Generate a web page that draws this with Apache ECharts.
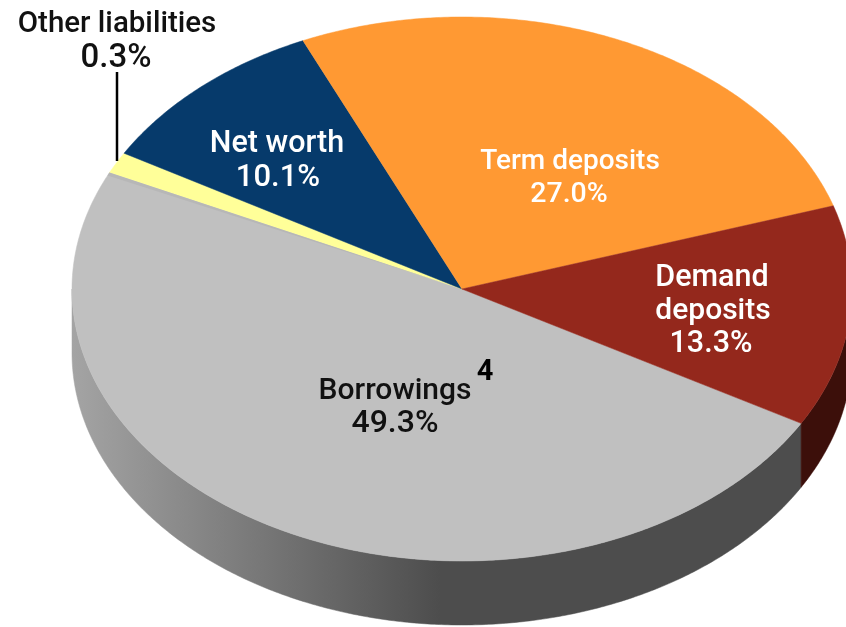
<!DOCTYPE html>
<html><head><meta charset="utf-8">
<style>html,body{margin:0;padding:0;background:#fff}#c{width:846px;height:627px}</style>
<script src="https://cdn.jsdelivr.net/npm/echarts@6/dist/echarts.min.js"></script>
</head><body><div id="c"></div>
<script>
const categories = ['Borrowings', 'Other liabilities', 'Net worth', 'Term deposits', 'Demand deposits'];
const shares = [49.3, 0.3, 10.1, 27.0, 13.3];
const topColors = ['#c0c0c0', '#ffff99', '#063a6b', '#ff9933', '#94281c'];
const sideColors = [null, '#b0b090', '#032040', '#a05f1f', '#3c0f0a'];
const labelLines = [['Borrowings', '49.3%'], ['Other liabilities', '0.3%'], ['Net worth', '10.1%'], ['Term deposits', '27.0%'], ['Demand', 'deposits', '13.3%']];
const labelColors = ['#111', '#111', '#fff', '#fff', '#fff'];

const CX = 462, CY = 289, RX = 390, RY = 272, DEPTH = 64;
const START = 29.6, MIN_ANGLE = 4.6;
const labelAt = [[[395, 391], [395, 424]], [[117, 25], [116, 59]], [[277, 144], [278, 178]], [[570, 162], [569, 195]], [[712, 278], [713, 311], [711, 344]]];
const labelSize = [[30, 32], [29.5, 33], [30.5, 31], [28, 28.5], [30.5, 30, 30.5]];

const small = shares.map(v => v / 100 * 360 < MIN_ANGLE);
const rest = shares.reduce((s, v, i) => s + (small[i] ? 0 : v), 0);
const free = 360 - MIN_ANGLE * small.filter(Boolean).length;
const sweeps = shares.map((v, i) => small[i] ? MIN_ANGLE : v / rest * free);
const starts = [];
sweeps.reduce((a, s, i) => (starts[i] = a, a + s), START);

const pt = (deg, dy) => [CX + RX * Math.cos(deg * Math.PI / 180), CY + RY * Math.sin(deg * Math.PI / 180) + (dy || 0)];
function arc(a, b, dy) {
  const out = [], n = Math.max(2, Math.ceil(Math.abs(b - a) * 2));
  for (let i = 0; i <= n; i++) out.push(pt(a + (b - a) * i / n, dy));
  return out;
}
const grayside = new echarts.graphic.LinearGradient(72, 0, 440, 0, [
  { offset: 0, color: '#a4a4a4' }, { offset: 1, color: '#4d4d4d' }], true);

function renderItem(params) {
  const i = params.dataIndex, a = starts[i], b = a + sweeps[i], color = topColors[i];
  const children = [];
  [[0, 180], [360, 540]].forEach(([lo, hi]) => {
    const s = Math.max(a, lo), e = Math.min(b, hi);
    if (e > s) {
      const fill = sideColors[i] || grayside;
      children.push({ type: 'polygon', shape: { points: arc(s, e, 0).concat(arc(e, s, DEPTH)) }, style: { fill, stroke: fill, lineWidth: 0.5 } });
    }
  });
  children.push({ type: 'polygon', shape: { points: [[CX, CY]].concat(arc(a, b, 0)) }, style: { fill: color, stroke: color, lineWidth: 0.5 }, z2: 2 });
  labelLines[i].forEach((t, k) => {
    children.push({ type: 'text', z2: 10, style: { text: t, x: labelAt[i][k][0], y: labelAt[i][k][1], fill: labelColors[i], font: '500 ' + labelSize[i][k] + 'px Roboto, "Open Sans", sans-serif', textAlign: 'center', verticalAlign: 'middle' } });
  });
  if (categories[i] === 'Borrowings') {
    children.push({ type: 'polygon', z2: 3, shape: { points: [[CX, CY]].concat(arc(b - 0.7, b, 0)) }, style: { fill: '#b7b7b7' } });
    children.push({ type: 'text', z2: 10, style: { text: '4', x: 485, y: 373, fill: '#000', font: '700 29px Roboto, sans-serif', textAlign: 'center', verticalAlign: 'middle' } });
  }
  if (categories[i] === 'Other liabilities') {
    children.push({ type: 'line', z2: 11, shape: { x1: 117, y1: 72, x2: 117, y2: 161 }, style: { stroke: '#000', lineWidth: 2.5 } });
  }
  return { type: 'group', children };
}

const chart = echarts.init(document.getElementById('c'), null, { renderer: 'canvas' });
chart.setOption({
  animation: false,
  backgroundColor: '#fff',
  series: [{ type: 'custom', coordinateSystem: 'none', silent: true, renderItem, data: shares.map((v, i) => ({ name: categories[i], value: v })) }]
});
</script></body></html>
